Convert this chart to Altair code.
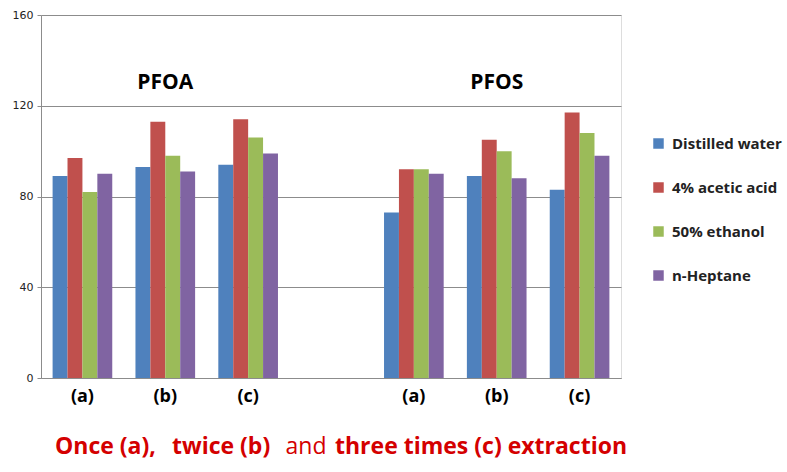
import altair as alt
import pandas as pd

# categories on the x axis ("_" is the empty gap slot between PFOA and PFOS)
slots = ["a1", "b1", "c1", "_", "a2", "b2", "c2"]
data_slots = ["a1", "b1", "c1", "a2", "b2", "c2"]
solvents = ["Distilled water", "4% acetic acid", "50% ethanol", "n-Heptane"]
colors = ["#4F81BD", "#C0504D", "#9BBB59", "#8064A2"]

water = [89, 93, 94, 73, 89, 83]
acetic = [97, 113, 114, 92, 105, 117]
ethanol = [82, 98, 106, 92, 100, 108]
heptane = [90, 91, 99, 90, 88, 98]

compound_labels = ["PFOA", "PFOS"]
compound_slots = ["b1", "b2"]
compound_y = [130, 130]

rows = []
for solvent, vals in zip(solvents, [water, acetic, ethanol, heptane]):
    for s, v in zip(data_slots, vals):
        rows.append({"slot": s, "solvent": solvent, "value": v})
df = pd.DataFrame(rows)
ann = pd.DataFrame({"slot": compound_slots, "label": compound_labels, "y": compound_y})

FONT = "Open Sans"

x_enc = alt.X(
    "slot:N",
    scale=alt.Scale(domain=slots, paddingInner=0.28, paddingOuter=0.14),
    axis=alt.Axis(
        title=None,
        labelExpr="datum.value == '_' ? '' : '(' + substring(datum.value, 0, 1) + ')'",
        labelAngle=0,
        labelFont=FONT,
        labelFontWeight="bold",
        labelFontSize=18,
        labelColor="#000000",
        labelPadding=9,
        ticks=False,
        domainColor="#8c8c8c",
        grid=False,
    ),
)

bars = alt.Chart(df).mark_bar().encode(
    x=x_enc,
    xOffset=alt.XOffset("solvent:N", sort=solvents, scale=alt.Scale(paddingInner=0, paddingOuter=0)),
    y=alt.Y(
        "value:Q",
        scale=alt.Scale(domain=[0, 160], nice=False),
        axis=alt.Axis(
            title=None,
            values=[0, 40, 80, 120, 160],
            labelFont="DejaVu Sans",
            labelFontSize=11,
            labelColor="#222222",
            tickSize=4,
            tickColor="#8c8c8c",
            domainColor="#8c8c8c",
            gridColor="#8c8c8c",
            gridWidth=1,
            labelPadding=4,
        ),
    ),
    color=alt.Color(
        "solvent:N",
        sort=solvents,
        scale=alt.Scale(domain=solvents, range=colors),
        legend=alt.Legend(
            title=None,
            orient="none",
            legendX=610,
            legendY=121,
            symbolType="square",
            symbolSize=110,
            symbolStrokeWidth=0,
            labelFont=FONT,
            labelFontWeight="bold",
            labelFontSize=15,
            labelColor="#222222",
            rowPadding=28,
            labelOffset=6,
        ),
    ),
)

labels = alt.Chart(ann).mark_text(
    font=FONT, fontWeight="bold", fontSize=21, color="#000000", baseline="middle"
).encode(
    x=alt.X("slot:N", scale=alt.Scale(domain=slots)),
    y=alt.Y("y:Q"),
    text="label:N",
)

title_text = ["Once (a),", "twice (b)", "and", "three times (c) extraction"]
title_weight = ["bold", "bold", "normal", "bold"]
title_align = ["left", "left", "center", "left"]
title_x = [14, 131, 265, 294]
tcolor = "#D40000"

title_layers = []
for t, w, a, xx in zip(title_text, title_weight, title_align, title_x):
    title_layers.append(
        alt.Chart(pd.DataFrame({"t": [t]})).mark_text(
            font=FONT, fontWeight=w, fontSize=23, color=tcolor, align=a, baseline="alphabetic"
        ).encode(x=alt.value(xx), y=alt.value(439), text="t:N")
    )

chart = alt.layer(bars, labels, *title_layers).properties(
    width=580,
    height=363,
    autosize=alt.AutoSizeParams(type="none"),
    padding={"left": 41, "top": 15, "right": 166, "bottom": 94},
).configure_view(stroke="#8c8c8c", strokeWidth=1).configure(background="white")

chart.save("out.html", embed_options={"renderer": "svg", "actions": False})
